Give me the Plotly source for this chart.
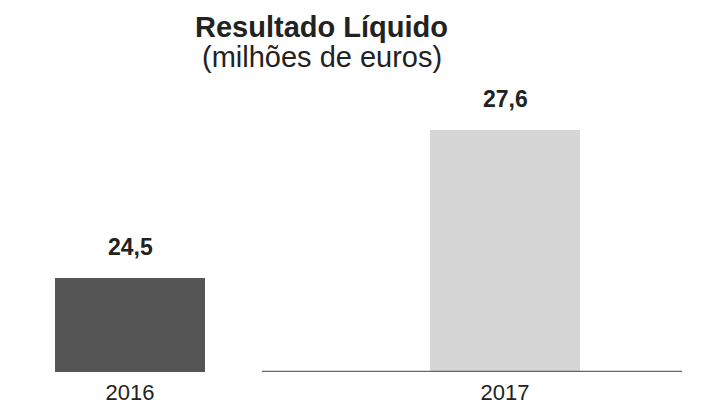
import plotly.graph_objects as go

categories = ["2016", "2017"]
values = [24.5, 27.6]
value_labels = ["24,5", "27,6"]
bar_colors = ["#555555", "#d6d6d6"]
title_line1 = "Resultado Líquido"
title_line2 = "(milhões de euros)"

FONT = "Liberation Sans, Arial, sans-serif"
OFF = 8            # page body margin offset
PLOT_H = 372 - OFF

fig = go.Figure()
fig.add_trace(go.Bar(
    x=categories, y=values, width=0.4,
    marker=dict(color=bar_colors, line=dict(width=0)),
    hoverinfo="skip",
))

for i, (v, t) in enumerate(zip(values, value_labels)):
    fig.add_annotation(x=i, y=v, text=f"<b>{t}</b>", showarrow=False,
                       yanchor="bottom", yshift=16,
                       font=dict(family=FONT, size=23, color="#222222"))

fig.add_annotation(xref="paper", yref="paper", x=(321 - OFF)/707, y=(PLOT_H - (27 - OFF))/PLOT_H,
                   yanchor="middle", xanchor="center",
                   text=f"<b>{title_line1}</b>", showarrow=False,
                   font=dict(family=FONT, size=29, color="#222222"))
fig.add_annotation(xref="paper", yref="paper", x=(322 - OFF)/707, y=(PLOT_H - (57 - OFF))/PLOT_H,
                   yanchor="middle", xanchor="center",
                   text=title_line2, showarrow=False,
                   font=dict(family=FONT, size=29, color="#222222"))

ymin = 22.53
fig.add_shape(type="line", xref="paper", yref="y", x0=(262 - OFF)/707, x1=(682 - OFF)/707,
              y0=ymin, y1=ymin, line=dict(color="#666666", width=2.5), layer="above")

r0 = -(130 - OFF) / 375
fig.update_layout(
    width=707, height=397,
    margin=dict(l=0, r=0, t=0, b=397 - PLOT_H),
    paper_bgcolor="white", plot_bgcolor="white",
    showlegend=False,
    xaxis=dict(type="category", range=[r0, r0 + 707/375], showline=False, showgrid=False,
               zeroline=False, ticks="", ticklabelstandoff=5,
               tickfont=dict(family=FONT, size=22, color="#222222")),
    yaxis=dict(range=[ymin, ymin + PLOT_H / 47.74], visible=False),
)

fig.write_html("out.html")
